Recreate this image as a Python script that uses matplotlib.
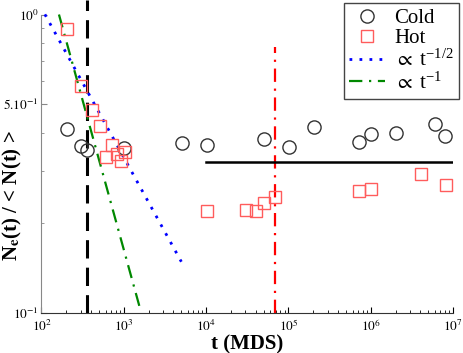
import numpy as np
import matplotlib
matplotlib.use("Agg")
import matplotlib.pyplot as plt
from matplotlib.ticker import FixedLocator, NullFormatter

plt.rcParams['font.family'] = ['Liberation Serif', 'DejaVu Serif']
plt.rcParams['mathtext.fontset'] = 'stix'

# data
cold_t = [202, 299, 361, 1014, 5050, 10160, 50600, 101600, 203000, 714000, 1.01e6, 2.01e6, 6.1e6, 8.05e6]
cold_n = [0.413, 0.363, 0.352, 0.357, 0.371, 0.365, 0.383, 0.361, 0.420, 0.374, 0.399, 0.401, 0.431, 0.392]

hot_t = [202, 305, 407, 514, 713, 602, 820, 916, 1035, 10160, 30600, 40700, 50600, 68200, 728000, 1.01e6, 4.08e6, 8.15e6]
hot_n = [0.895, 0.578, 0.480, 0.422, 0.366, 0.333, 0.342, 0.324, 0.345, 0.220, 0.222, 0.220, 0.2345, 0.244, 0.257, 0.260, 0.292, 0.268]

# power law guides
half_t = [110, 5000]
half_amp = 10.5
one_t = [163, 1570]
one_amp = 163.0

plateau_t = [1e4, 1e7]
plateau_n = 0.321
t_black = 354
t_red = 6.8e4

fig = plt.figure(figsize=(4.63, 3.53), dpi=100)
ax = fig.add_axes([0.0896, 0.1133, 0.889, 0.8456])
ax.set_xscale('log')
ax.set_yscale('log')
ax.set_xlim(1e2, 1e7)
ax.set_ylim(0.1, 1.0)

tt = np.logspace(np.log10(half_t[0]), np.log10(half_t[1]), 60)
ax.plot(tt, half_amp * tt ** -0.5, color='#0000ff', lw=2, ls=(0, (1, 2.6)),
        label=r'$\propto$ t$^{\mathregular{-1/2}}$', clip_on=False, zorder=3)
tt = np.logspace(np.log10(one_t[0]), np.log10(one_t[1]), 60)
ax.plot(tt, one_amp / tt, color='#008800', lw=1.6, ls=(0, (6, 3, 1, 3)),
        label=r'$\propto$ t$^{\mathregular{-1}}$', clip_on=False, zorder=3)

ax.plot([t_black, t_black], [0.1, 1.118], color='black', lw=2.2, ls=(0, (6, 3)), clip_on=False, zorder=2)
ax.plot([t_red, t_red], [0.1, 0.78], color='red', lw=1.6, ls=(0, (6, 3, 1, 3)), zorder=2)
ax.plot(plateau_t, [plateau_n, plateau_n], color='black', lw=1.8, zorder=2)

ax.plot(cold_t, cold_n, 'o', ms=9.5, mfc='none', mec='#333333', mew=1.0, label='Cold', zorder=4)
ax.plot(hot_t, hot_n, 's', ms=8, mfc='none', mec='#ff5c5c', mew=1.0, label='Hot', zorder=4)

for s in ['top', 'right']:
    ax.spines[s].set_visible(False)
ax.spines['left'].set_color('#888888')
ax.spines['bottom'].set_color('#333333')

ax.xaxis.set_major_locator(FixedLocator([1e2, 1e3, 1e4, 1e5, 1e6, 1e7]))
ax.set_xticklabels([r'$10^{%d}$' % k for k in range(2, 8)])
ax.xaxis.set_minor_locator(FixedLocator([m * 10.0 ** k for k in range(2, 7) for m in range(2, 10)]))
ax.xaxis.set_minor_formatter(NullFormatter())
ax.yaxis.set_major_locator(FixedLocator([0.1, 0.5, 1.0]))
ax.set_yticklabels([r'$10^{-1}$', r'$5.10^{-1}$', r'$10^{0}$'])
ax.yaxis.set_minor_locator(FixedLocator([0.2, 0.3, 0.4, 0.6, 0.7, 0.8, 0.9]))
ax.yaxis.set_minor_formatter(NullFormatter())
ax.tick_params(which='both', direction='in', labelsize=9.5, pad=2)
ax.tick_params(axis='x', which='both', pad=4)
ax.tick_params(which='major', length=4)
ax.tick_params(which='minor', length=2)
ax.tick_params(axis='y', which='both', color='#888888')

ax.set_xlabel('t (MDS)', fontsize=15, fontweight='bold', labelpad=0)
ax.set_ylabel(r'N$_\mathbf{e}$(t) / < N(t) >', fontsize=15, fontweight='bold')
ax.yaxis.set_label_coords(-0.043, 0.395)

handles, labels = ax.get_legend_handles_labels()
order = [2, 3, 0, 1]
leg = ax.legend([handles[i] for i in order], [labels[i] for i in order],
                loc='upper right', bbox_to_anchor=(459 / 463, 1 - 3 / 353),
                bbox_transform=fig.transFigure, borderaxespad=0, fontsize=15,
                fancybox=False, framealpha=1, edgecolor='#444444',
                handlelength=1.7, handletextpad=0.45, labelspacing=0.05, borderpad=0.25)
leg.get_frame().set_linewidth(1.0)

fig.savefig('out.png', dpi=100)
